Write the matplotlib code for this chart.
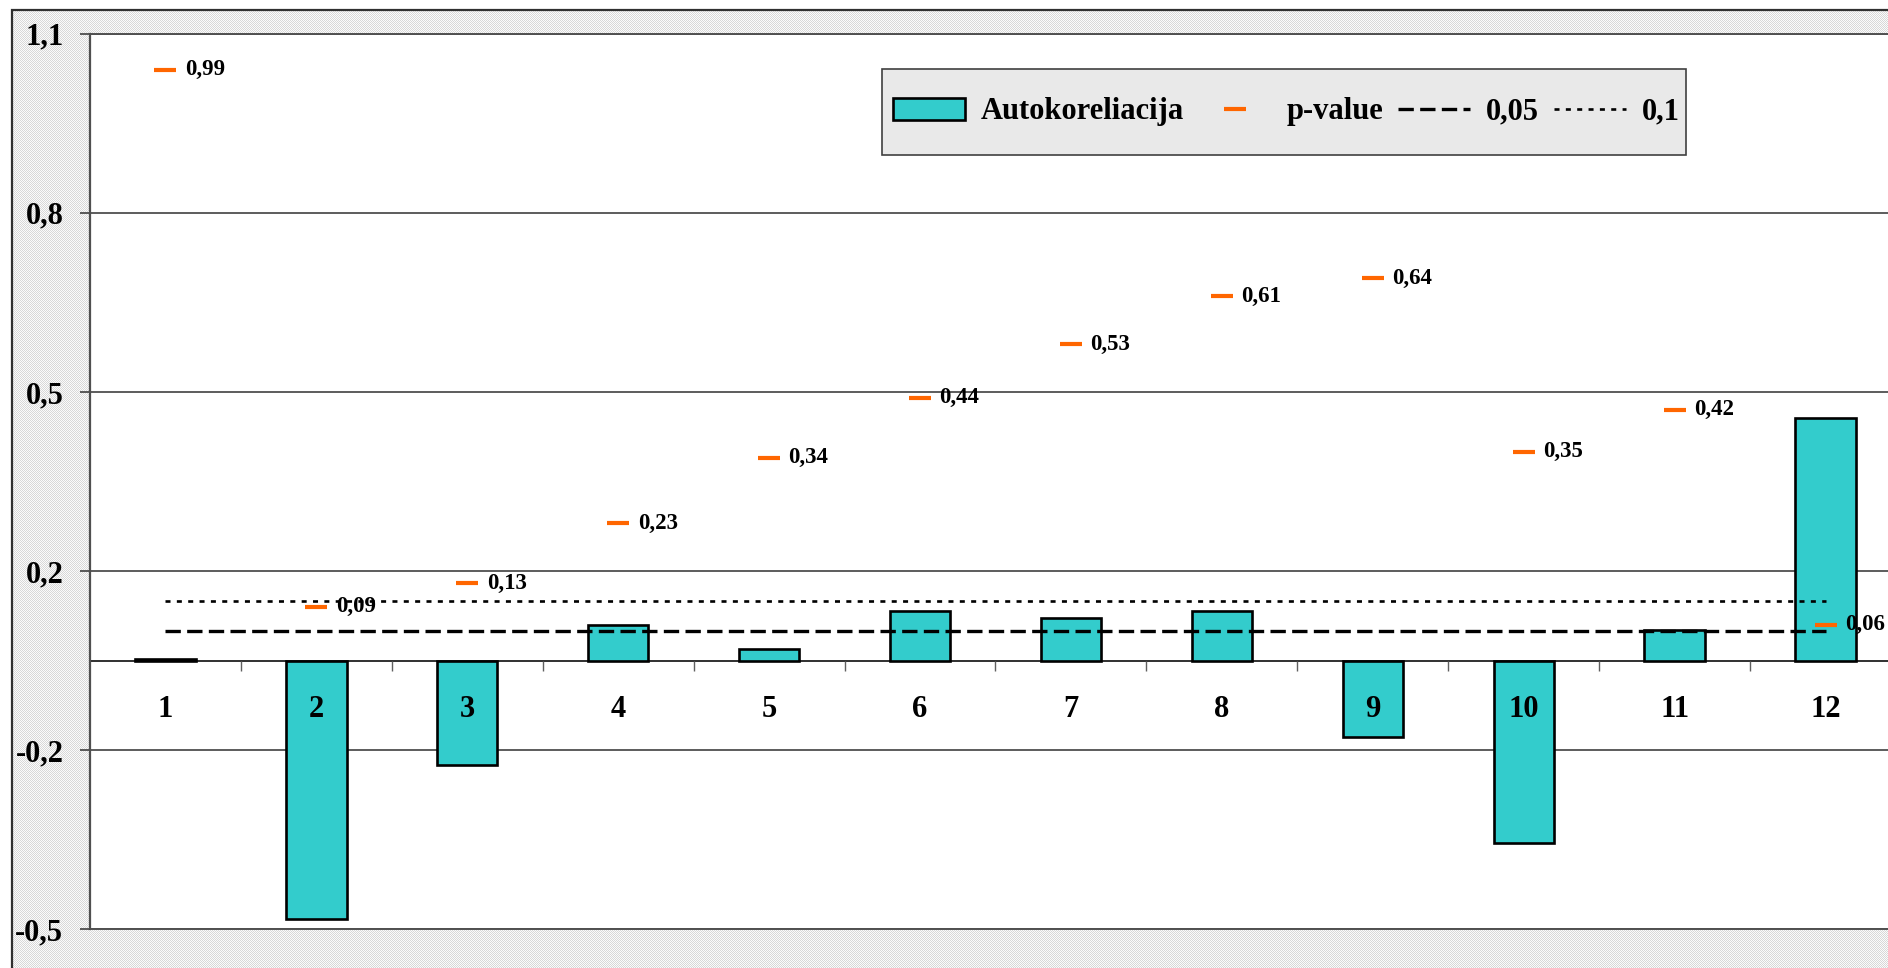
import numpy as np
import matplotlib
matplotlib.use("Agg")
import matplotlib.pyplot as plt
from matplotlib.patches import Rectangle

# lag / autokoreliacija / p-value
lagai = [1, 2, 3, 4, 5, 6, 7, 8, 9, 10, 11, 12]
autokoreliacija = [0.002, -0.433, -0.175, 0.060, 0.019, 0.083,
                   0.072, 0.083, -0.128, -0.306, 0.052, 0.407]
p_value = [0.99, 0.09, 0.13, 0.23, 0.34, 0.44,
           0.53, 0.61, 0.64, 0.35, 0.42, 0.06]
riba_005 = [0.05] * 12
riba_01 = [0.1] * 12

y_ticks = [-0.45, -0.15, 0.15, 0.45, 0.75, 1.05]
y_tick_labels = ["-0,5", "-0,2", "0,2", "0,5", "0,8", "1,1"]

plt.rcParams["font.family"] = ["Liberation Serif", "DejaVu Serif"]
plt.rcParams["font.weight"] = "bold"

W, H = 1888, 968
fig = plt.figure(figsize=(W / 100, H / 100), dpi=100, facecolor="white")

# rastas fonas (pilkas taškelių raštas)
yy, xx = np.mgrid[0:H, 0:W]
fonas = np.where((xx + yy) % 2 == 0, 0.85, 0.985)
fonas[:10, :] = 1.0
fonas[:, :12] = 1.0
fig.figimage(np.dstack([fonas] * 3), xo=0, yo=0, origin="upper", zorder=0)
fig.patches.append(Rectangle((12 / W, -0.01), 1.0, 1 - 10 / H + 0.01,
                             transform=fig.transFigure, fill=False,
                             edgecolor="#303030", linewidth=1.6, zorder=1))

ax = fig.add_axes([90 / W, 38.7 / H, 1811 / W, 895.6 / H])
ax.set_facecolor("white")
ax.set_zorder(2)

x = np.array(lagai)
bars = ax.bar(x, autokoreliacija, width=0.4, color="#33cccc",
              edgecolor="black", linewidth=1.9, zorder=3,
              label="Autokoreliacija")
p_line, = ax.plot(x, p_value, linestyle="none", marker="_", markersize=15.5,
                  markeredgewidth=3.0, color="#ff6600", zorder=5,
                  label="p-value")
l05, = ax.plot(x, riba_005, color="black", linewidth=2.4,
               linestyle=(0, (4.6, 1.9)), zorder=4, label="0,05")
l01, = ax.plot(x, riba_01, color="black", linewidth=1.9,
               linestyle=(0, (1.9, 2.4)), zorder=4, label="0,1")

for xi, p in zip(x, p_value):
    ax.annotate(f"{p:.2f}".replace(".", ","), (xi, p),
                xytext=(14, 0), textcoords="offset points",
                ha="left", va="center", fontsize=16.5, fontweight="bold",
                zorder=6, annotation_clip=False)

ax.set_xlim(0.5, 12.5)
ax.set_ylim(-0.45, 1.05)

ax.set_yticks(y_ticks)
ax.set_yticklabels(y_tick_labels)
ax.tick_params(axis="y", direction="out", length=7.2, width=1.2,
               color="#404040", pad=12, labelsize=22)
ax.yaxis.grid(True, color="#303030", linewidth=1.1)
ax.set_axisbelow(True)

# kategorijų ašis ties nuliu, užrašai virš stulpelių
ax.spines["bottom"].set_position(("data", 0))
ax.spines["bottom"].set_color("#303030")
ax.spines["bottom"].set_linewidth(1.4)
ax.spines["bottom"].set_zorder(2.5)
ax.set_xticks(x)
ax.set_xticklabels([str(v) for v in lagai])
ax.set_xticks(x[:-1] + 0.5, minor=True)
ax.tick_params(axis="x", which="major", length=0, pad=25, labelsize=22)
ax.tick_params(axis="x", which="minor", direction="out", length=7.2,
               width=1.0, color="#606060")
ax.xaxis.set_zorder(6)

for s in ["top", "right"]:
    ax.spines[s].set_visible(False)
ax.spines["left"].set_color("#404040")
ax.spines["left"].set_linewidth(1.6)
ax.add_patch(Rectangle((0, 0), 1, 1, transform=ax.transAxes, fill=False,
                       edgecolor="#505050", linewidth=1.4, zorder=2.6,
                       clip_on=False))

# legenda su atskirai nupieštu rėmeliu
ax.add_patch(Rectangle((882 / W, 1 - 155 / H), 804 / W, 86 / H,
                       transform=fig.transFigure, facecolor="#e9e9e9",
                       edgecolor="#404040", linewidth=1.2, zorder=6.5,
                       clip_on=False))
leg = ax.legend(handles=[bars, p_line, l05, l01], ncol=4,
                loc="center left", bbox_to_anchor=(893 / W, 1 - 112 / H),
                bbox_transform=fig.transFigure, borderaxespad=0,
                borderpad=0, fontsize=22, frameon=False,
                handlelength=2.36, handletextpad=0.5, columnspacing=0.5,
                numpoints=1)
leg.set_zorder(7)

fig.savefig("out.png", dpi=100)
